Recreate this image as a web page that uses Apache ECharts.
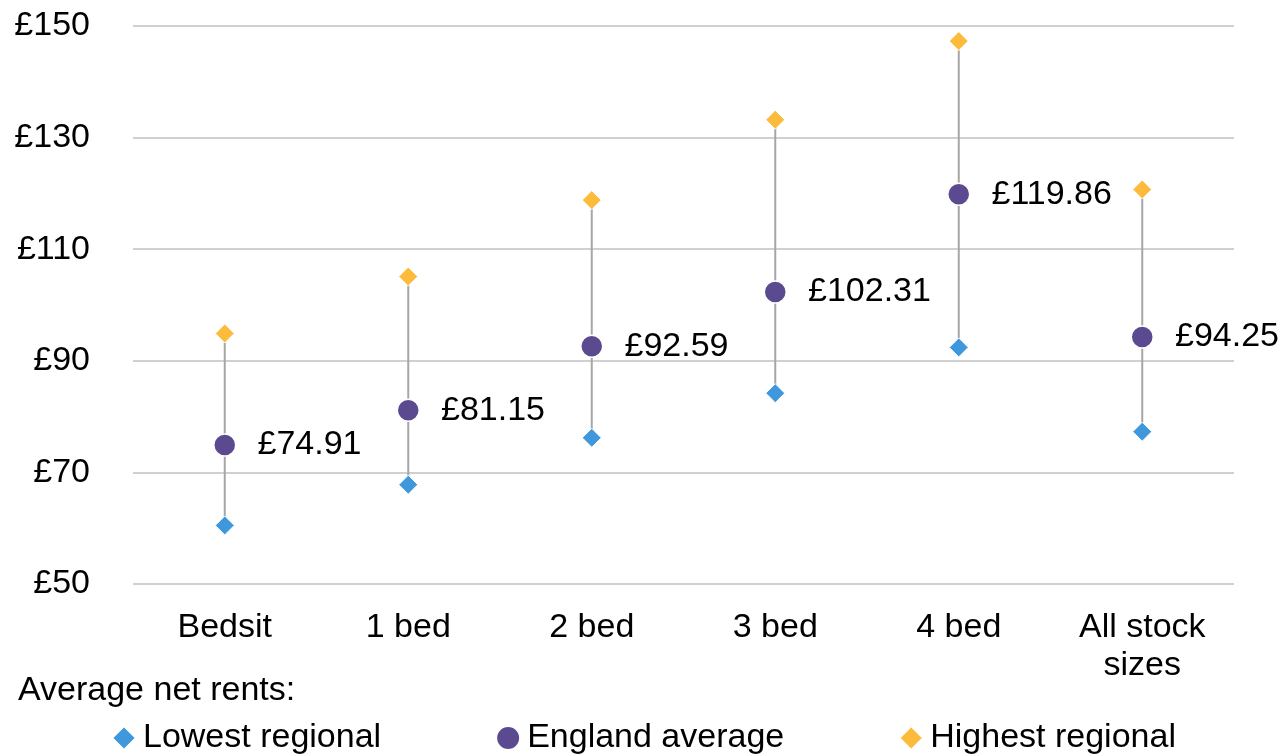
<!DOCTYPE html>
<html>
<head>
<meta charset="utf-8">
<script src="https://cdn.jsdelivr.net/npm/echarts@6/dist/echarts.min.js"></script>
<style>
  html, body { margin: 0; padding: 0; background: #ffffff; }
  #chart { width: 1283px; height: 756px; }
</style>
</head>
<body>
<div id="chart"></div>
<script>
// Stock sizes along the x axis
const categories = ['Bedsit', '1 bed', '2 bed', '3 bed', '4 bed', 'All stock\nsizes'];
// Average weekly net rents (£)
const lowestRegional = [60.5, 67.8, 76.2, 84.2, 92.4, 77.3];
const englandAverage = [74.91, 81.15, 92.59, 102.31, 119.86, 94.25];
const highestRegional = [94.9, 105.1, 118.8, 133.2, 147.3, 120.7];
// Y axis ticks
const yTicks = { min: 50, max: 150, step: 20 };

const FONT = 'Liberation Sans, Arial, sans-serif';
const FS = 34;

const chart = echarts.init(document.getElementById('chart'), null, { renderer: 'canvas' });

const rangeData = categories.map((c, i) => [i, lowestRegional[i], highestRegional[i]]);

chart.setOption({
  animation: false,
  backgroundColor: '#ffffff',
  textStyle: { fontFamily: FONT },
  title: {
    text: 'Average net rents:',
    left: 18,
    top: 674,
    padding: 0,
    textStyle: { fontFamily: FONT, fontSize: FS, fontWeight: 'normal', color: '#000000' }
  },
  legend: {
    left: 111,
    top: 721,
    padding: 0,
    itemGap: 114,
    itemWidth: 24,
    itemHeight: 24,
    data: [
      { name: 'Lowest regional', icon: 'diamond' },
      { name: 'England average', icon: 'circle' },
      { name: 'Highest regional', icon: 'diamond' }
    ],
    textStyle: { fontFamily: FONT, fontSize: FS, color: '#000000', padding: [0, 0, 0, 2] }
  },
  grid: { left: 133, right: 49, top: 26, bottom: 172, containLabel: false },
  xAxis: {
    type: 'category',
    data: categories,
    boundaryGap: true,
    axisLine: { show: false },
    axisTick: { show: false },
    axisLabel: {
      margin: 25,
      fontFamily: FONT,
      fontSize: FS,
      lineHeight: 38,
      color: '#000000',
      interval: 0
    },
    splitLine: { show: false }
  },
  yAxis: {
    type: 'value',
    min: yTicks.min,
    max: yTicks.max,
    interval: yTicks.step,
    axisLine: { show: false },
    axisTick: { show: false },
    axisLabel: {
      margin: 43,
      fontFamily: FONT,
      fontSize: FS,
      color: '#000000',
      formatter: v => '£' + v
    },
    splitLine: { lineStyle: { color: '#c0c0c0', width: 1.5 } }
  },
  series: [
    {
      name: 'Range',
      type: 'custom',
      silent: true,
      z: 1,
      data: rangeData,
      encode: { x: 0, y: [1, 2] },
      renderItem: function (params, api) {
        const lo = api.coord([api.value(0), api.value(1)]);
        const hi = api.coord([api.value(0), api.value(2)]);
        return {
          type: 'line',
          shape: { x1: lo[0], y1: lo[1], x2: hi[0], y2: hi[1] },
          style: { stroke: '#a6a6a6', lineWidth: 2 }
        };
      }
    },
    {
      name: 'Lowest regional',
      type: 'scatter',
      z: 3,
      symbol: 'diamond',
      symbolSize: 19,
      itemStyle: { color: '#3f97dc', opacity: 1, borderColor: '#ffffff', borderWidth: 1 },
      data: lowestRegional
    },
    {
      name: 'England average',
      type: 'scatter',
      z: 3,
      symbol: 'circle',
      symbolSize: 22,
      itemStyle: { color: '#5b4a8f', opacity: 1, borderColor: '#ffffff', borderWidth: 1.5 },
      label: {
        show: true,
        position: 'right',
        distance: 21,
        fontFamily: FONT,
        fontSize: FS,
        color: '#000000',
        formatter: p => '£' + p.value.toFixed(2)
      },
      data: englandAverage
    },
    {
      name: 'Highest regional',
      type: 'scatter',
      z: 3,
      symbol: 'diamond',
      symbolSize: 19,
      itemStyle: { color: '#fdbb3b', opacity: 1, borderColor: '#ffffff', borderWidth: 1 },
      data: highestRegional
    }
  ]
});
</script>
</body>
</html>
